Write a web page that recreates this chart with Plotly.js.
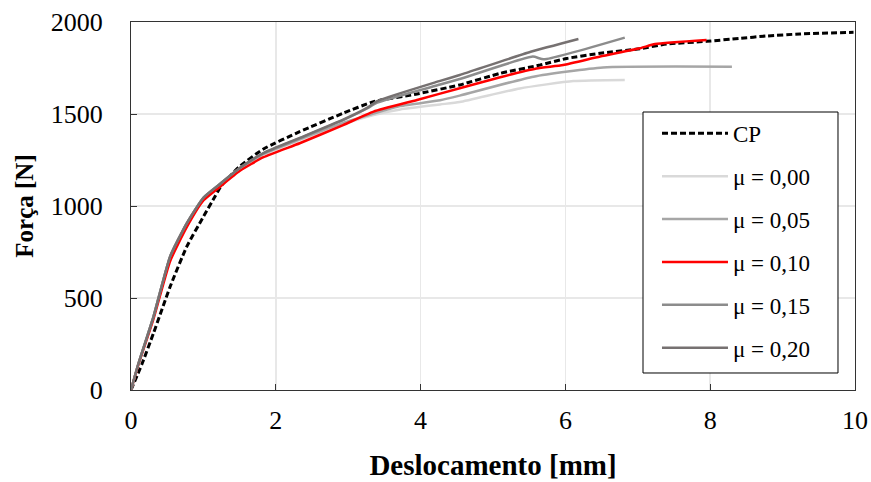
<!DOCTYPE html>
<html>
<head>
<meta charset="utf-8">
<script src="https://cdn.plot.ly/plotly-3.0.1.min.js"></script>
<style>html,body{margin:0;padding:0;background:#fff;}#chart{width:871px;height:482px;}</style>
</head>
<body>
<div id="chart"></div>
<script>
// Deslocamento [mm] / Força [N]
const cpX  = [0, 0.15, 0.31, 0.54, 0.77, 1.0, 1.16, 1.25, 1.5, 1.83, 2.33, 2.93, 3.35, 3.95, 4.54, 5.10, 5.65, 6.02, 6.48, 7.03, 7.40, 7.95, 8.41, 8.78, 9.24, 9.98];
const cpY  = [0, 140, 308, 561, 779, 942, 1051, 1112, 1215, 1310, 1404, 1504, 1567, 1609, 1658, 1721, 1766, 1802, 1830, 1855, 1880, 1895, 1911, 1924, 1935, 1944];

const mu000X = [0, 0.1, 0.31, 0.54, 0.77, 1.0, 1.23, 1.5, 1.83, 2.33, 2.93, 3.35, 3.72, 4.27, 4.54, 5.37, 6.11, 6.82];
const mu000Y = [0, 140, 398, 725, 906, 1045, 1120, 1203, 1280, 1358, 1445, 1495, 1525, 1552, 1565, 1639, 1679, 1685];

const mu005X = [0, 0.1, 0.31, 0.54, 0.77, 1.0, 1.23, 1.5, 1.83, 2.33, 2.93, 3.35, 3.72, 4.27, 4.54, 5.56, 6.52, 8.30];
const mu005Y = [0, 140, 398, 725, 906, 1045, 1120, 1204, 1283, 1362, 1452, 1502, 1543, 1575, 1600, 1703, 1753, 1757];

const mu010X = [0, 0.1, 0.31, 0.54, 0.77, 1.0, 1.23, 1.5, 1.83, 2.33, 2.93, 3.35, 3.95, 4.54, 5.10, 5.60, 5.97, 6.48, 7.03, 7.24, 7.95];
const mu010Y = [0, 135, 385, 700, 885, 1030, 1105, 1190, 1265, 1341, 1440, 1513, 1576, 1640, 1700, 1747, 1766, 1812, 1857, 1880, 1902];

const mu015X = [0, 0.1, 0.31, 0.54, 0.77, 1.0, 1.23, 1.5, 1.83, 2.33, 2.93, 3.26, 3.40, 4.27, 4.54, 5.55, 5.70, 6.82];
const mu015Y = [0, 140, 398, 725, 906, 1045, 1120, 1205, 1286, 1368, 1467, 1530, 1562, 1660, 1690, 1812, 1797, 1915];

const mu020X = [0, 0.1, 0.31, 0.54, 0.77, 1.0, 1.23, 1.5, 1.83, 2.33, 2.93, 3.26, 3.40, 4.27, 4.54, 5.52, 6.18];
const mu020Y = [0, 140, 398, 725, 906, 1045, 1120, 1206, 1288, 1370, 1469, 1533, 1570, 1680, 1712, 1838, 1908];

const xTicks = [0, 2, 4, 6, 8, 10];
const yTicks = [0, 500, 1000, 1500, 2000];

const serif = "Liberation Serif";

function tr(x, y, name, color, width, dash, grp) {
  return {x: x, y: y, type: 'scatter', mode: 'lines', name: name, legendgroup: grp,
          line: {color: color, width: width, dash: dash, shape: 'spline', smoothing: 0.5}};
}

const traces = [
  tr(cpX, cpY, 'CP', '#000000', 3, '6px,3px', 'g0'),
  tr(mu000X, mu000Y, 'μ = 0,00', '#d9d9d9', 2.5, 'solid', 'g1'),
  tr(mu005X, mu005Y, 'μ = 0,05', '#a6a6a6', 2.5, 'solid', 'g2'),
  tr(mu010X, mu010Y, 'μ = 0,10', '#ff0000', 2.5, 'solid', 'g3'),
  tr(mu015X, mu015Y, 'μ = 0,15', '#8c8c8c', 2.5, 'solid', 'g4'),
  tr(mu020X, mu020Y, 'μ = 0,20', '#767171', 2.5, 'solid', 'g5')
];

const axisCommon = {
  showline: true, linecolor: '#333333', linewidth: 1, mirror: true,
  ticks: 'inside', ticklen: 6, tickcolor: '#333333', tickwidth: 1,
  showgrid: true, gridcolor: '#e8e8e8', gridwidth: 1.5,
  zeroline: false
};

const layout = {
  width: 871, height: 482,
  paper_bgcolor: '#ffffff', plot_bgcolor: '#ffffff',
  font: {family: serif, size: 24, color: '#000'},
  margin: {l: 131, r: 16, t: 22, b: 92},
  showlegend: true,
  xaxis: Object.assign({}, axisCommon, {
    range: [0, 10], tickvals: xTicks, ticktext: xTicks.map(String), ticklabelstandoff: 7,
    tickfont: {family: serif, size: 26, color: '#000'},
    title: {text: '<b>Deslocamento [mm]</b>', font: {family: serif, size: 29, color: '#000'}, standoff: 20}
  }),
  yaxis: Object.assign({}, axisCommon, {
    range: [0, 2000], tickvals: yTicks, ticktext: yTicks.map(String), ticklabelstandoff: 22,
    tickfont: {family: serif, size: 26, color: '#000'},
    title: {text: '<b>Força [N]</b>', font: {family: serif, size: 25, color: '#000'}, standoff: 10}
  }),
  shapes: [{
    type: 'rect', xref: 'paper', yref: 'paper', layer: 'above',
    x0: 0.7072, x1: 0.9765, y0: 0.0462, y1: 0.7554,
    fillcolor: '#ffffff', line: {color: '#000000', width: 1}
  }],
  legend: {
    x: 0.7265, y: 0.756, xanchor: 'left', yanchor: 'top',
    bgcolor: 'rgba(0,0,0,0)', borderwidth: 0,
    font: {family: serif, size: 23, color: '#000'},
    itemwidth: 66, tracegroupgap: 10, traceorder: 'grouped'
  }
};

Plotly.newPlot('chart', traces, layout, {displayModeBar: false, staticPlot: true});
</script>
</body>
</html>
